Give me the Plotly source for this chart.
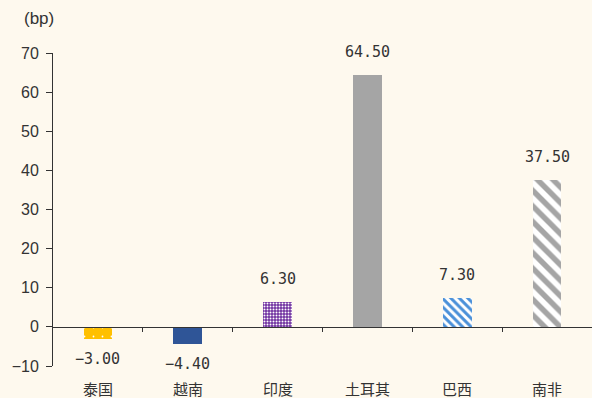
import plotly.graph_objects as go

# Spread changes by country (bp)
countries = ["泰国", "越南", "印度", "土耳其", "巴西", "南非"]
values = [-3.00, -4.40, 6.30, 64.50, 7.30, 37.50]
y_ticks = [-10, 0, 10, 20, 30, 40, 50, 60, 70]

# Fill style per bar: (background colour, pattern colour, shape, size, solidity)
styles = [
    ("#FFC000", "#FFFFFF", ".", 9, 0.03),
    ("#2F5597", "#2F5597", "", 8, 0.3),
    ("#7030A0", "#FFFFFF", ".", 3, 0.35),
    ("#A5A5A5", "#A5A5A5", "", 8, 0.3),
    ("#FFFFFF", "#4A90D9", "\\", 6, 0.5),
    ("#FFFFFF", "#A5A5A5", "\\", 11, 0.5),
]

BG = "#FEF9EE"
INK = "#333333"

fig = go.Figure()
xs = list(range(len(countries)))
for i, (name, v) in enumerate(zip(countries, values)):
    bg, fg, shape, size, sol = styles[i]
    fig.add_trace(go.Bar(
        x=[xs[i]], y=[v], width=0.32, name=name,
        marker=dict(
            color=bg,
            line=dict(width=0),
            pattern=dict(shape=shape, fgcolor=fg, bgcolor=bg, size=size,
                         solidity=sol, fillmode="replace"),
        ),
        showlegend=False,
    ))

# Value labels beyond each bar end
for i, v in enumerate(values):
    fig.add_annotation(
        x=xs[i], y=v, text=f"{v:.2f}".replace("-", "−"), showarrow=False,
        yshift=23 if v >= 0 else -20,
        font=dict(family="DejaVu Sans Mono", size=15, color=INK),
    )

# Category labels under the plot
for i, name in enumerate(countries):
    fig.add_annotation(
        x=xs[i], y=0, xref="x", yref="paper", yanchor="top", yshift=-10,
        text=name, showarrow=False,
        font=dict(family="Noto Sans CJK SC", size=15, color=INK),
    )

# Unit label, above the y axis
fig.add_annotation(
    x=-0.026, y=1.109, xref="paper", yref="paper", text="(bp)", showarrow=False,
    xanchor="center", yanchor="middle",
    font=dict(family="Liberation Sans", size=17, color=INK),
)

fig.update_layout(
    width=592, height=398,
    margin=dict(l=53, r=0, t=53, b=32),
    paper_bgcolor=BG, plot_bgcolor=BG,
    bargap=0,
    xaxis=dict(
        range=[-0.5, 5.5],
        anchor="free", position=10 / 80,
        showline=True, linecolor=INK, linewidth=1,
        tickmode="array", tickvals=[0.5, 1.5, 2.5, 3.5, 4.5],
        ticktext=[""] * 5,
        ticks="outside", ticklen=4, tickcolor=INK,
        showgrid=False, zeroline=False,
    ),
    yaxis=dict(
        range=[-10, 70], tickvals=y_ticks,
        showline=True, linecolor=INK, linewidth=1,
        ticks="outside", ticklen=6, tickcolor=INK,
        ticklabelstandoff=4,
        showgrid=False, zeroline=False,
        tickfont=dict(family="Liberation Sans", size=16, color=INK),
    ),
)

fig.write_html("out.html")
